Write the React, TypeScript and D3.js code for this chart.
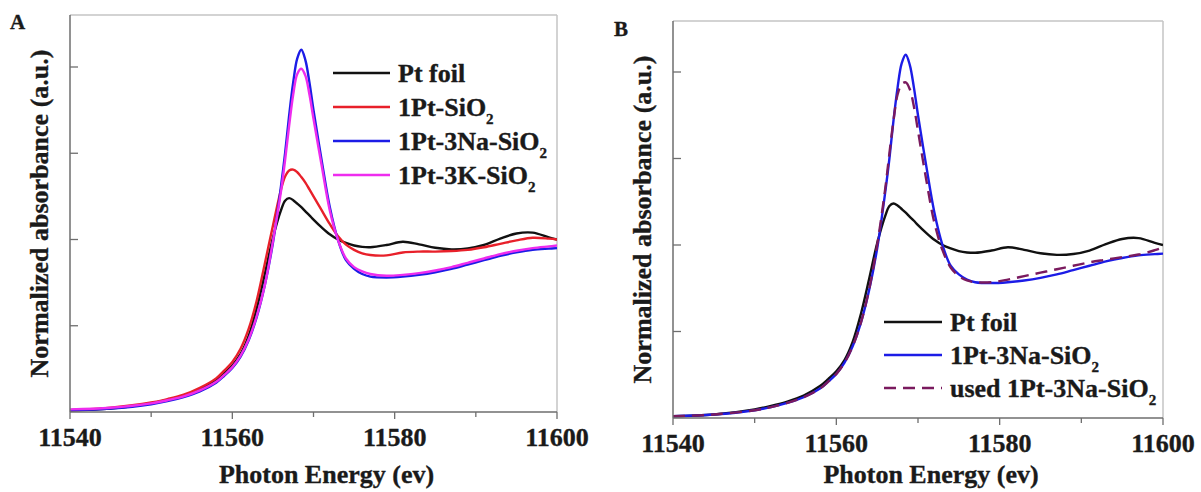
import React from "react";
import * as d3 from "d3";

// Photon energy grid (eV)
const energy = [11540, 11545, 11550, 11552, 11554, 11556, 11558, 11559, 11560, 11561, 11562, 11563, 11564, 11565, 11566, 11566.5, 11567, 11567.5, 11568, 11568.5, 11569, 11569.5, 11570, 11571, 11572, 11573, 11574, 11575, 11576, 11577, 11579, 11581, 11583, 11585, 11587, 11589, 11591, 11593, 11595, 11597, 11599, 11600];

const ptFoil = [0.01, 0.02, 0.05, 0.07, 0.095, 0.13, 0.185, 0.225, 0.27, 0.335, 0.44, 0.60, 0.80, 1.01, 1.17, 1.225, 1.24, 1.228, 1.208, 1.187, 1.163, 1.14, 1.115, 1.07, 1.03, 1.0, 0.98, 0.965, 0.957, 0.955, 0.968, 0.987, 0.972, 0.952, 0.943, 0.948, 0.968, 1.005, 1.035, 1.04, 1.012, 1.0];
const pt1SiO2 = [0.01, 0.025, 0.055, 0.075, 0.10, 0.14, 0.195, 0.24, 0.29, 0.365, 0.48, 0.645, 0.86, 1.08, 1.29, 1.365, 1.40, 1.405, 1.39, 1.362, 1.33, 1.29, 1.25, 1.17, 1.09, 1.02, 0.97, 0.94, 0.92, 0.91, 0.908, 0.925, 0.93, 0.93, 0.933, 0.94, 0.955, 0.975, 0.995, 1.01, 1.005, 1.0];
const pt1Na3SiO2 = [0.01, 0.02, 0.045, 0.063, 0.087, 0.12, 0.17, 0.21, 0.255, 0.32, 0.415, 0.55, 0.735, 0.98, 1.31, 1.50, 1.72, 1.91, 2.05, 2.10, 2.04, 1.91, 1.75, 1.46, 1.19, 1.00, 0.88, 0.83, 0.80, 0.785, 0.78, 0.785, 0.795, 0.81, 0.83, 0.855, 0.88, 0.905, 0.925, 0.94, 0.947, 0.95];
const pt1K3SiO2 = [0.015, 0.025, 0.05, 0.068, 0.09, 0.125, 0.175, 0.215, 0.26, 0.325, 0.42, 0.555, 0.735, 0.99, 1.28, 1.46, 1.66, 1.84, 1.96, 1.99, 1.95, 1.84, 1.70, 1.43, 1.17, 1.00, 0.89, 0.84, 0.815, 0.80, 0.79, 0.795, 0.805, 0.82, 0.84, 0.865, 0.89, 0.915, 0.935, 0.95, 0.96, 0.965];
const usedPt1Na3SiO2 = [0.01, 0.02, 0.045, 0.063, 0.087, 0.12, 0.17, 0.21, 0.255, 0.32, 0.415, 0.55, 0.74, 1.0, 1.33, 1.53, 1.72, 1.87, 1.93, 1.94, 1.90, 1.80, 1.66, 1.38, 1.13, 0.97, 0.87, 0.82, 0.795, 0.785, 0.785, 0.80, 0.82, 0.84, 0.86, 0.88, 0.90, 0.915, 0.93, 0.945, 0.97, 0.985];

const xMajorTicks = [11540, 11560, 11580, 11600];
const xMinorTicks = [11550, 11570, 11590];
const yTicks = [0.5, 1.0, 1.5, 2.0];

const FONT = "'Liberation Serif', 'Times New Roman', Times, serif";
const TXT = "#1a1a1a";

type Series = { name: string; sub: string; values: number[]; color: string; dash?: string };

const seriesA: Series[] = [
  { name: "Pt foil", sub: "", values: ptFoil, color: "#111111" },
  { name: "1Pt-SiO", sub: "2", values: pt1SiO2, color: "#e8202a" },
  { name: "1Pt-3Na-SiO", sub: "2", values: pt1Na3SiO2, color: "#1c1ce6" },
  { name: "1Pt-3K-SiO", sub: "2", values: pt1K3SiO2, color: "#ee2cee" },
];
const seriesB: Series[] = [
  { name: "Pt foil", sub: "", values: ptFoil, color: "#111111" },
  { name: "1Pt-3Na-SiO", sub: "2", values: pt1Na3SiO2, color: "#1c1ce6" },
  { name: "used 1Pt-3Na-SiO", sub: "2", values: usedPt1Na3SiO2, color: "#7a1a5e", dash: "12,7" },
];

type PanelProps = {
  id: string;
  label: string;
  left: number; right: number; top: number; bottom: number; y2: number;
  series: Series[];
  legendX: number; legendY: number; legendStep: number; legendLen: number;
  yTitleX: number; labelX: number; labelY: number;
};

const textProps = { fontFamily: FONT, fontWeight: "bold" as const, fill: TXT, stroke: TXT, strokeWidth: 0.35 };

function Panel(p: PanelProps) {
  const x = d3.scaleLinear().domain([11540, 11600]).range([p.left, p.right]);
  const y = d3.scaleLinear().domain([0, 2]).range([p.bottom, p.y2]);
  const line = d3
    .line<number>()
    .x((_, i) => x(energy[i]))
    .y((v) => y(v))
    .curve(d3.curveCatmullRom.alpha(0.5));
  const clipId = "clip-" + p.id;
  const cx = (p.left + p.right) / 2 + 13;
  const cy = (p.top + p.bottom) / 2;
  return (
    <g>
      <defs>
        <clipPath id={clipId}>
          <rect x={p.left} y={p.top} width={p.right - p.left} height={p.bottom - p.top} />
        </clipPath>
      </defs>
      {/* frame */}
      <line x1={p.left} x2={p.right} y1={p.top} y2={p.top} stroke="#c4c4c4" strokeWidth={1.5} />
      <line x1={p.right} x2={p.right} y1={p.top} y2={p.bottom} stroke="#c4c4c4" strokeWidth={1.5} />
      {/* curves */}
      <g clipPath={`url(#${clipId})`}>
        {p.series.map((s) => (
          <path key={s.name} d={line(s.values) || ""} fill="none" stroke={s.color} strokeWidth={2.4} strokeDasharray={s.dash} />
        ))}
      </g>
      {/* axes */}
      <line x1={p.left} x2={p.left} y1={p.top} y2={p.bottom} stroke="#6e6e6e" strokeWidth={1.5} />
      <line x1={p.left} x2={p.right} y1={p.bottom} y2={p.bottom} stroke="#6e6e6e" strokeWidth={1.5} />
      {yTicks.map((t) => (
        <line key={"yt" + t} x1={p.left} x2={p.left + 8} y1={y(t)} y2={y(t)} stroke="#6e6e6e" strokeWidth={1.3} />
      ))}
      {xMajorTicks.map((t) => (
        <line key={"xM" + t} x1={x(t)} x2={x(t)} y1={p.bottom} y2={p.bottom + 7} stroke="#6e6e6e" strokeWidth={1.3} />
      ))}
      {xMinorTicks.map((t) => (
        <line key={"xm" + t} x1={x(t)} x2={x(t)} y1={p.bottom} y2={p.bottom + 5} stroke="#6e6e6e" strokeWidth={1.3} />
      ))}
      {xMajorTicks.map((t) => (
        <text key={"xl" + t} x={x(t)} y={p.bottom + 34} textAnchor="middle" fontSize={26} {...textProps}>
          {String(t)}
        </text>
      ))}
      <text x={cx} y={483} textAnchor="middle" fontSize={26} {...textProps}>
        Photon Energy (ev)
      </text>
      <text transform={`translate(${p.yTitleX},${cy}) rotate(-90)`} textAnchor="middle" fontSize={26} {...textProps}>
        Normalized absorbance (a.u.)
      </text>
      <text x={p.labelX} y={p.labelY} fontSize={21} {...textProps}>
        {p.label}
      </text>
      {/* legend */}
      {p.series.map((s, i) => {
        const ly = p.legendY + i * p.legendStep;
        return (
          <g key={"lg" + s.name}>
            <line x1={p.legendX} x2={p.legendX + p.legendLen} y1={ly} y2={ly} stroke={s.color} strokeWidth={2.6} strokeDasharray={s.dash} />
            <text x={p.legendX + p.legendLen + 8} y={ly + 9} fontSize={26} {...textProps}>
              {s.name}
              {s.sub ? (
                <tspan fontSize={15} dy={8}>
                  {s.sub}
                </tspan>
              ) : null}
            </text>
          </g>
        );
      })}
    </g>
  );
}

export default function App() {
  return (
    <div style={{ position: "absolute", left: 0, top: 0 }}>
      <svg width={1201} height={492} viewBox="0 0 1201 492" style={{ display: "block", background: "#ffffff" }}>
        <Panel
          id="A" label="A"
          left={70} right={557} top={15} bottom={412} y2={67}
          series={seriesA}
          legendX={333} legendY={73} legendStep={34} legendLen={57}
          yTitleX={48} labelX={10} labelY={29}
        />
        <Panel
          id="B" label="B"
          left={673} right={1163} top={21} bottom={418} y2={72}
          series={seriesB}
          legendX={884} legendY={322} legendStep={33} legendLen={58}
          yTitleX={651} labelX={614} labelY={36}
        />
      </svg>
    </div>
  );
}
